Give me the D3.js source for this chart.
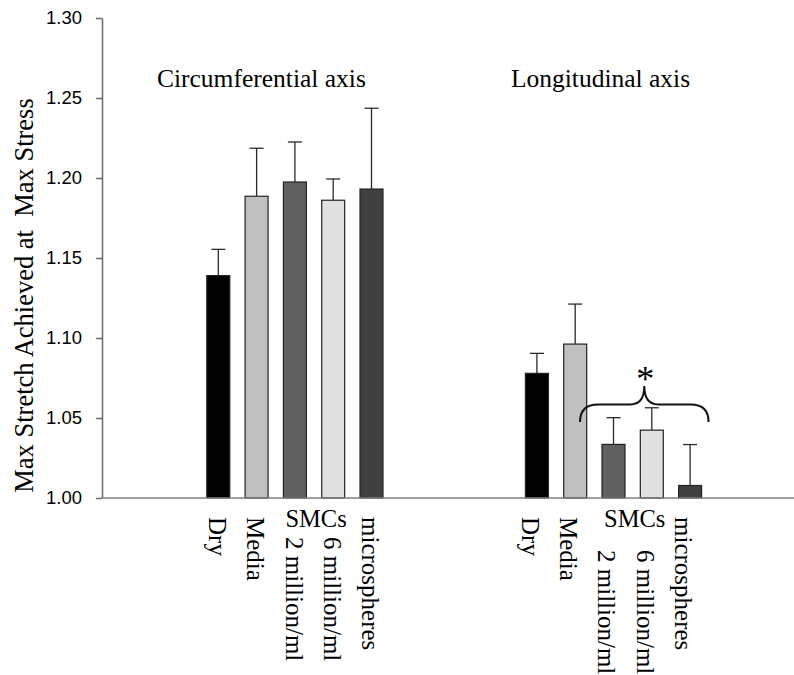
<!DOCTYPE html>
<html>
<head>
<meta charset="utf-8">
<script src="https://cdn.jsdelivr.net/npm/d3@7"></script>
<style>
  html, body { margin: 0; padding: 0; background: #fff; }
  svg { display: block; }
</style>
</head>
<body>
<svg id="chart" width="794" height="675"></svg>
<script>
// Max stretch at max stress, by scaffold condition and test direction
const groups = ["Circumferential axis", "Longitudinal axis"];
const conditions = ["Dry", "Media", "SMCs 2 million/ml", "SMCs 6 million/ml", "microspheres"];
const conditionLabels = ["Dry", "Media", "2 million/ml", "6 million/ml", "microspheres"];
const sharedLabel = "SMCs";
const circMeans = [1.139, 1.1886, 1.1975, 1.1861, 1.1931];
const circErrors = [0.0164, 0.030, 0.025, 0.0133, 0.0505];
const longMeans = [1.0779, 1.0962, 1.0335, 1.0424, 1.0078];
const longErrors = [0.0125, 0.025, 0.0167, 0.014, 0.0256];
const yTicks = [1.00, 1.05, 1.10, 1.15, 1.20, 1.25, 1.30];
const yTitle = "Max Stretch Achieved at  Max Stress";
const significance = "*";

const fills = ["#000000", "#c0c0c0", "#606060", "#e0e0e0", "#404040"];
const SERIF = '"Liberation Serif", "Times New Roman", Tinos, serif';
const SANS = '"Liberation Sans", Arial, Arimo, sans-serif';

const rows = [];
groups.forEach((g, gi) => {
  const means = gi === 0 ? circMeans : longMeans;
  const errs = gi === 0 ? circErrors : longErrors;
  conditions.forEach((c, ci) => rows.push({ group: g, cond: c, ci, mean: means[ci], err: errs[ci] }));
});

const svg = d3.select("#chart");
const W = 794;
const axisX = 102;

const y = d3.scaleLinear().domain([1.00, 1.30]).range([498, 18]);

const xGroup = d3.scaleBand().domain(groups).range([135.6, 772.8]).padding(0);
const innerWidth = 191.5;
const innerOffset = (xGroup.bandwidth() - innerWidth) / 2;
const xCond = d3.scaleBand().domain(conditions)
  .range([innerOffset, innerOffset + innerWidth])
  .paddingInner(0.4).paddingOuter(0.2);

const barLeft = d => xGroup(d.group) + xCond(d.cond);
const barMid = d => barLeft(d) + xCond.bandwidth() / 2;

// y axis
const yAxis = svg.append("g")
  .attr("transform", `translate(${axisX},0)`)
  .call(d3.axisLeft(y).tickValues(yTicks).tickFormat(d3.format(".2f"))
    .tickSize(6).tickSizeOuter(0).tickPadding(14));
yAxis.select(".domain").attr("stroke", "#6a6a6a").attr("stroke-width", 1.5);
yAxis.selectAll(".tick line").attr("stroke", "#6a6a6a").attr("stroke-width", 1.5);
yAxis.selectAll(".tick text")
  .style("font-family", SANS)
  .style("font-size", "18.5px")
  .attr("fill", "#000");

// y axis title
svg.append("text")
  .style("font-family", SERIF)
  .style("font-size", "26.5px")
  .style("white-space", "pre")
  .attr("transform", `translate(33,${(y(1.0) + 93) / 2}) rotate(-90)`)
  .attr("text-anchor", "middle")
  .text(yTitle);

// error bars (upper only)
const errG = svg.append("g").attr("stroke", "#2a2a2a").attr("stroke-width", 1.3);
const capHalf = 7;
errG.selectAll("line.stem").data(rows).join("line")
  .attr("class", "stem")
  .attr("x1", barMid).attr("x2", barMid)
  .attr("y1", d => y(d.mean)).attr("y2", d => y(d.mean + d.err));
errG.selectAll("line.cap").data(rows).join("line")
  .attr("class", "cap")
  .attr("x1", d => barMid(d) - capHalf).attr("x2", d => barMid(d) + capHalf)
  .attr("y1", d => y(d.mean + d.err)).attr("y2", d => y(d.mean + d.err));

// bars
svg.append("g").selectAll("rect").data(rows).join("rect")
  .attr("x", barLeft)
  .attr("y", d => y(d.mean))
  .attr("width", xCond.bandwidth())
  .attr("height", d => y(1.0) - y(d.mean))
  .attr("fill", d => fills[d.ci])
  .attr("stroke", "#222")
  .attr("stroke-width", 1.2);

// x axis baseline
svg.append("line")
  .attr("x1", axisX).attr("x2", W)
  .attr("y1", y(1.0)).attr("y2", y(1.0))
  .attr("stroke", "#808080").attr("stroke-width", 1.6);

// group titles
const titleShift = [-33.5, -13];
svg.append("g").selectAll("text").data(groups).join("text")
  .style("font-family", SERIF)
  .style("font-size", "25.5px")
  .attr("x", (g, i) => xGroup(g) + xGroup.bandwidth() / 2 + titleShift[i])
  .attr("y", 87)
  .attr("text-anchor", "middle")
  .text(g => g);

// category labels, set vertically under each bar
const labelShift = [-1, -7];
const labelTop = [517, 517];
const subLabelTop = [537, 550];
const labelG = svg.append("g");
labelG.selectAll("text.cat").data(rows).join("text")
  .attr("class", "cat")
  .style("font-family", SERIF)
  .style("font-size", "25px")
  .attr("dy", "0.33em")
  .attr("transform", d => {
    const gi = groups.indexOf(d.group);
    const top = (d.ci === 2 || d.ci === 3) ? subLabelTop[gi] : labelTop[gi];
    return `translate(${barMid(d) + labelShift[gi]},${top}) rotate(90)`;
  })
  .text(d => conditionLabels[d.ci]);

// shared "SMCs" header over the two cell-density bars
labelG.selectAll("text.shared").data(groups).join("text")
  .attr("class", "shared")
  .style("font-family", SERIF)
  .style("font-size", "24.5px")
  .attr("text-anchor", "middle")
  .attr("x", g => xGroup(g) + (xCond(conditions[2]) + xCond(conditions[3]) + xCond.bandwidth()) / 2 + 2)
  .attr("y", 526.5)
  .text(sharedLabel);

// significance brace over the longitudinal cell-seeded groups
const lg = groups[1];
const bx0 = xGroup(lg) + xCond(conditions[2]) - 22;
const bx1 = xGroup(lg) + xCond(conditions[4]) + xCond.bandwidth() + 7;
const bxm = (bx0 + bx1) / 2;
const yEnd = y(1.0475), yLine = y(1.0585), yPeak = y(1.0700);
const r = 18, rc = 14;
const p = d3.path();
p.moveTo(bx0, yEnd);
p.quadraticCurveTo(bx0, yLine, bx0 + r, yLine);
p.lineTo(bxm - rc, yLine);
p.quadraticCurveTo(bxm, yLine, bxm, yPeak);
p.quadraticCurveTo(bxm, yLine, bxm + rc, yLine);
p.lineTo(bx1 - r, yLine);
p.quadraticCurveTo(bx1, yLine, bx1, yEnd);
svg.append("path")
  .attr("d", p.toString())
  .attr("fill", "none")
  .attr("stroke", "#111")
  .attr("stroke-width", 2);

svg.append("text")
  .style("font-family", SERIF)
  .style("font-size", "36px")
  .attr("x", bxm + 1)
  .attr("y", y(1.0775) + 17)
  .attr("text-anchor", "middle")
  .text(significance);
</script>
</body>
</html>
